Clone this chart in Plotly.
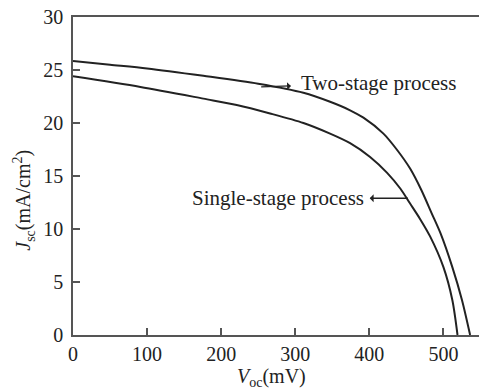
import plotly.graph_objects as go

# Data
two_v = [0, 50, 100, 176, 250, 311, 347, 374, 392, 419, 437, 455, 470, 484, 496, 512, 525, 536]
two_j = [25.85, 25.5, 25.15, 24.45, 23.7, 22.85, 22.0, 21.2, 20.5, 19.0, 17.5, 15.7, 13.7, 11.5, 9.6, 6.4, 3.3, 0]
single_v = [0, 91, 176, 221, 266, 311, 347, 374, 401, 424, 442, 455, 468, 482, 500, 512, 519]
single_j = [24.4, 23.4, 22.3, 21.7, 20.9, 20.0, 19.0, 18.1, 16.8, 15.3, 13.8, 12.4, 11.0, 9.3, 6.4, 3.3, 0]

x_ticks = [0, 100, 200, 300, 400, 500]
y_ticks = [0, 5, 10, 15, 20, 25, 30]

FONT = "Liberation Serif"
LINE_C = "#222222"
AXIS_C = "#555555"

fig = go.Figure()
fig.add_trace(go.Scatter(x=two_v, y=two_j, mode="lines",
                         line=dict(color=LINE_C, width=2, shape="spline", smoothing=0.8),
                         showlegend=False, hoverinfo="skip"))
fig.add_trace(go.Scatter(x=single_v, y=single_j, mode="lines",
                         line=dict(color=LINE_C, width=2, shape="spline", smoothing=0.8),
                         showlegend=False, hoverinfo="skip"))

axis_common = dict(showgrid=False, zeroline=False, showline=True, linecolor=AXIS_C,
                   linewidth=1.5, ticks="inside", ticklen=7, tickwidth=1.5, tickcolor=AXIS_C,
                   tickfont=dict(family=FONT, size=20, color="#222"))

fig.update_xaxes(range=[0, 548], tickvals=x_ticks, mirror=True, **axis_common)
fig.update_yaxes(range=[0, 30], tickvals=y_ticks, ticklabelstandoff=4, **axis_common)

ann_font = dict(family=FONT, size=21, color="#222")
annotations = [
    dict(x=254, y=23.4, ax=413, ay=23.8, xref="x", yref="y", axref="x", ayref="y",
         text="Two-stage process", showarrow=True, arrowside="start", arrowhead=2,
         arrowsize=1, arrowwidth=1.3, arrowcolor=LINE_C, startstandoff=9, font=ann_font),
    dict(x=452, y=12.9, ax=277, ay=12.9, xref="x", yref="y", axref="x", ayref="y",
         text="Single-stage process", showarrow=True, arrowside="start", arrowhead=2,
         arrowsize=1, arrowwidth=1.3, arrowcolor=LINE_C, startstandoff=4, font=ann_font),
    dict(x=0.49, y=-0.135, xref="paper", yref="paper",
         text="<i>V</i><sub>oc</sub>(mV)", showarrow=False,
         xanchor="center", yanchor="middle", font=dict(family=FONT, size=20, color="#222")),
    dict(x=-0.121, y=0.425, xref="paper", yref="paper",
         text="<i>J</i><sub>sc</sub>(mA/cm<sup>2</sup>)", showarrow=False, textangle=-90,
         xanchor="center", yanchor="middle", font=dict(family=FONT, size=20, color="#222")),
]

fig.update_layout(width=479, height=389, margin=dict(l=73, r=0, t=17, b=54),
                  plot_bgcolor="white", paper_bgcolor="white", annotations=annotations,
                  font=dict(family=FONT))

fig.write_html("out.html", config={"displayModeBar": False},
               post_script="document.body.style.margin='0';document.body.style.overflow='hidden';")
